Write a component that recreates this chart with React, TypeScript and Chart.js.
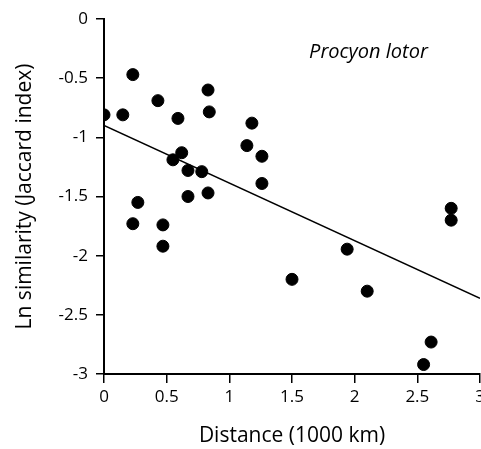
import React, { useEffect, useRef } from "react";
import { Chart, registerables } from "chart.js";

Chart.register(...registerables);

const distance = [0, 0.15, 0.23, 0.43, 0.59, 0.83, 0.84, 0.62, 0.55, 0.67, 0.78, 0.67, 0.83, 0.27, 0.23, 0.47, 0.47, 1.18, 1.14, 1.26, 1.26, 2.77, 2.77, 1.94, 1.5, 2.1, 2.61, 2.55];
const lnSimilarity = [-0.81, -0.81, -0.47, -0.69, -0.84, -0.6, -0.785, -1.13, -1.19, -1.28, -1.29, -1.5, -1.47, -1.55, -1.73, -1.74, -1.92, -0.88, -1.07, -1.16, -1.39, -1.6, -1.7, -1.945, -2.2, -2.3, -2.73, -2.92];
const fitX = [0, 3];
const fitY = [-0.9, -2.36];
const speciesLabel = "Procyon lotor";
const xTitle = "Distance (1000 km)";
const yTitle = "Ln similarity (Jaccard index)";

const FONT = "'Open Sans', 'DejaVu Sans', sans-serif";

const labelPlugin = {
  id: "speciesLabel",
  afterDraw(chart: any) {
    const { ctx, scales } = chart;
    const x = scales.x.getPixelForValue(2.11);
    const y = scales.y.getPixelForValue(-0.28);
    ctx.save();
    ctx.font = `italic 20px ${FONT}`;
    ctx.fillStyle = "#000";
    ctx.textAlign = "center";
    ctx.textBaseline = "middle";
    ctx.fillText(speciesLabel, x, y);
    ctx.restore();
  },
};

const fmt = (v: any) => String(Math.round(Number(v) * 10) / 10);

export default function App() {
  const ref = useRef<HTMLCanvasElement>(null);
  useEffect(() => {
    document.body.style.margin = "0";
    const chart = new Chart(ref.current!, {
      type: "scatter",
      data: {
        datasets: [
          {
            type: "line",
            data: fitX.map((x, i) => ({ x, y: fitY[i] })),
            borderColor: "#000",
            borderWidth: 1.5,
            pointRadius: 0,
            fill: false,
          },
          {
            data: distance.map((x, i) => ({ x, y: lnSimilarity[i] })),
            backgroundColor: "#000",
            borderColor: "#000",
            pointRadius: 6,
            pointHoverRadius: 6,
          },
        ],
      },
      options: {
        responsive: false,
        animation: false,
        events: [],
        layout: { autoPadding: false, padding: { left: 0, top: 19, right: 1, bottom: 0 } },
        plugins: { legend: { display: false }, tooltip: { enabled: false } },
        scales: {
          x: {
            type: "linear",
            min: 0,
            max: 3,
            ticks: { stepSize: 0.5, color: "#000", font: { family: FONT, size: 17 }, padding: 4, maxRotation: 0, callback: fmt },
            grid: { drawOnChartArea: false, drawTicks: true, tickLength: 9, color: "#000", lineWidth: 1.5 },
            border: { display: true, color: "#000", width: 2 },
            title: { display: true, text: xTitle, color: "#000", font: { family: FONT, size: 21 }, padding: { top: 0, bottom: 0 } },
            afterFit(scale: any) {
              scale.height = 75;
              scale.paddingLeft = 0;
              scale.paddingRight = 0;
            },
          },
          y: {
            type: "linear",
            min: -3,
            max: 0,
            ticks: { stepSize: 0.5, color: "#000", font: { family: FONT, size: 17 }, padding: 8, callback: fmt },
            grid: { drawOnChartArea: false, drawTicks: true, tickLength: 8, color: "#000", lineWidth: 1.5 },
            border: { display: true, color: "#000", width: 2 },
            title: { display: true, text: yTitle, color: "#000", font: { family: FONT, size: 21 }, padding: { top: 12, bottom: 0 } },
            afterFit(scale: any) {
              scale.width = 104;
              scale.paddingTop = 0;
              scale.paddingBottom = 0;
            },
          },
        },
      },
      plugins: [labelPlugin],
    });
    return () => chart.destroy();
  }, []);
  return <canvas ref={ref} width={481} height={449} style={{ display: "block" }} />;
}
